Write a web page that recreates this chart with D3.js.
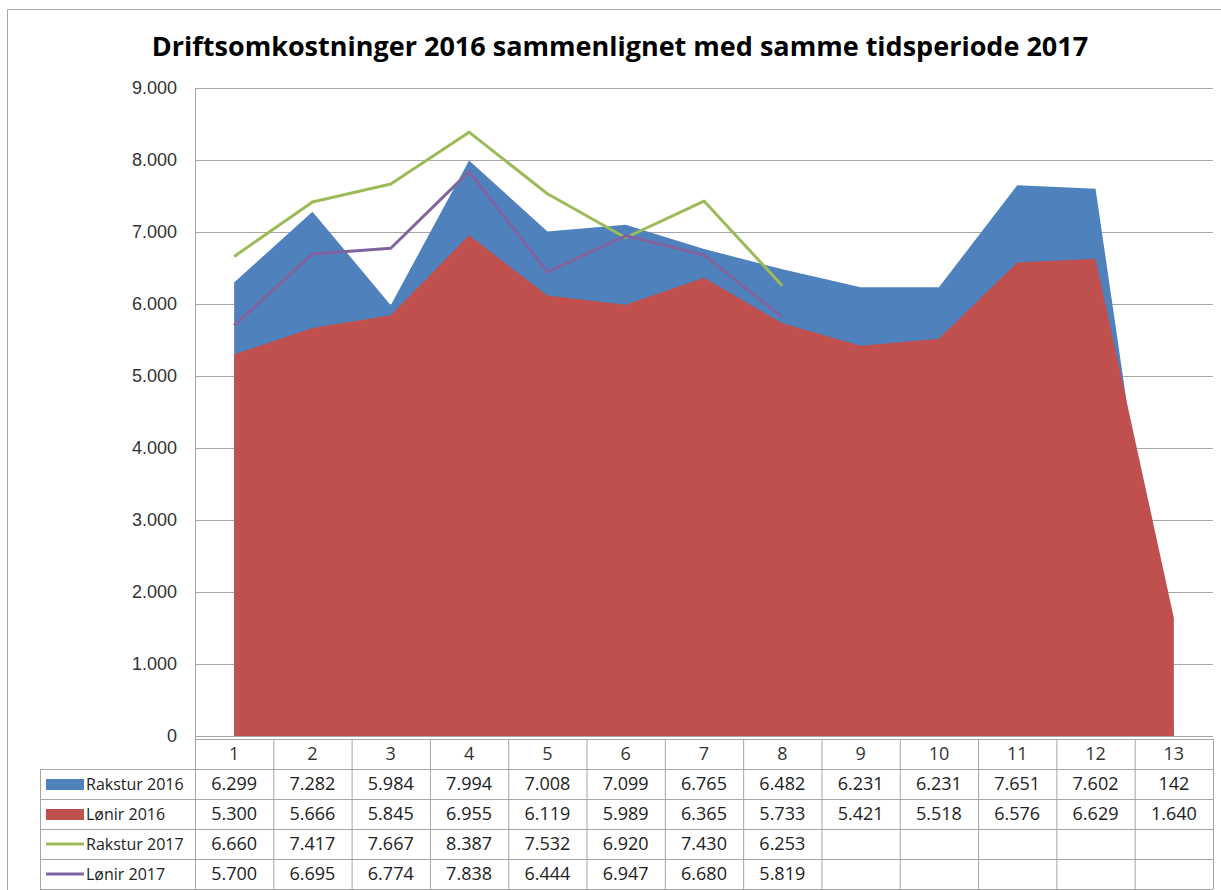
<!DOCTYPE html>
<html>
<head>
<meta charset="utf-8">
<script src="https://cdn.jsdelivr.net/npm/d3@7"></script>
<style>
  body { margin: 0; background: #fff; }
  svg { font-family: "Open Sans", "Noto Sans", sans-serif; }
</style>
</head>
<body>
<svg width="1221" height="890"></svg>
<script>
// data
const categories = ["1", "2", "3", "4", "5", "6", "7", "8", "9", "10", "11", "12", "13"];
const rakstur2016 = [6299, 7282, 5984, 7994, 7008, 7099, 6765, 6482, 6231, 6231, 7651, 7602, 142];
const lonir2016 = [5300, 5666, 5845, 6955, 6119, 5989, 6365, 5733, 5421, 5518, 6576, 6629, 1640];
const rakstur2017 = [6660, 7417, 7667, 8387, 7532, 6920, 7430, 6253];
const lonir2017 = [5700, 6695, 6774, 7838, 6444, 6947, 6680, 5819];
const yTicks = [0, 1000, 2000, 3000, 4000, 5000, 6000, 7000, 8000, 9000];

const series = [
  { name: "Rakstur 2016", values: rakstur2016, color: "#4F81BD", type: "area" },
  { name: "Lønir 2016", values: lonir2016, color: "#C0504D", type: "area" },
  { name: "Rakstur 2017", values: rakstur2017, color: "#9BBB59", type: "line" },
  { name: "Lønir 2017", values: lonir2017, color: "#8064A2", type: "line" }
];

const svg = d3.select("svg");
const grid = "#a6a6a6";
const numSize = 18;

// plot area
const plotLeft = 195, plotRight = 1213, plotTop = 88, plotBottom = 736;
const rowH = 30, headerTop = 739, legendLeft = 40;

// outer border of the chart
svg.append("path")
  .attr("d", `M7.5,890 V9.5 H1221`)
  .attr("fill", "none")
  .attr("stroke", grid);

svg.append("text")
  .attr("x", 620).attr("y", 56)
  .attr("text-anchor", "middle")
  .attr("font-size", 27).attr("font-weight", "bold")
  .attr("fill", "#000")
  .text("Driftsomkostninger 2016 sammenlignet med samme tidsperiode 2017");

const x = d3.scaleBand().domain(categories).range([plotLeft, plotRight]);
const y = d3.scaleLinear().domain([0, 9000]).range([plotBottom, plotTop]);
const cx = i => x(categories[i]) + x.bandwidth() / 2;
const fmt = v => d3.format(",")(v).replace(/,/g, ".");

// gridlines
const yAxis = d3.axisLeft(y).tickValues(yTicks)
  .tickSize(-(plotRight - plotLeft)).tickPadding(18)
  .tickFormat(fmt);
const ga = svg.append("g").attr("transform", `translate(${plotLeft},0)`).call(yAxis);
ga.select(".domain").remove();
ga.selectAll(".tick line").attr("stroke", grid);
ga.selectAll(".tick text").attr("font-size", numSize).attr("fill", "#333");

// areas (overlapping, not stacked)
const area = d3.area().x((d, i) => cx(i)).y0(y(0)).y1(d => y(d));
series.filter(s => s.type === "area").forEach(s => {
  svg.append("path").datum(s.values)
    .attr("d", area).attr("fill", s.color);
});

// lines
const line = d3.line().x((d, i) => cx(i)).y(d => y(d));
series.filter(s => s.type === "line").forEach(s => {
  svg.append("path").datum(s.values)
    .attr("d", line).attr("fill", "none")
    .attr("stroke", s.color).attr("stroke-width", 3)
    .attr("stroke-linejoin", "round");
});

// vertical axis line
const tableBottom = headerTop + rowH * 5;
svg.append("line")
  .attr("x1", plotLeft + 0.5).attr("x2", plotLeft + 0.5)
  .attr("y1", plotTop).attr("y2", tableBottom)
  .attr("stroke", grid);

// data table
const tbl = svg.append("g");
tbl.append("line").attr("x1", plotLeft).attr("x2", plotRight)
  .attr("y1", headerTop + 0.5).attr("y2", headerTop + 0.5).attr("stroke", grid);
d3.range(1, 6).forEach(r => {
  tbl.append("line").attr("x1", legendLeft).attr("x2", plotRight)
    .attr("y1", headerTop + r * rowH + 0.5).attr("y2", headerTop + r * rowH + 0.5)
    .attr("stroke", grid);
});
tbl.append("line").attr("x1", legendLeft + 0.5).attr("x2", legendLeft + 0.5)
  .attr("y1", headerTop + rowH).attr("y2", tableBottom).attr("stroke", grid);
categories.forEach(c => {
  const xr = x(c) + x.bandwidth();
  tbl.append("line").attr("x1", xr + 0.5).attr("x2", xr + 0.5)
    .attr("y1", headerTop).attr("y2", tableBottom).attr("stroke", grid);
});
// header labels
tbl.selectAll(".cat").data(categories).join("text")
  .attr("x", (d, i) => cx(i)).attr("y", headerTop + rowH / 2)
  .attr("dy", "0.36em").attr("text-anchor", "middle")
  .attr("font-size", numSize).attr("fill", "#333").text(d => d);

series.forEach((s, r) => {
  const yc = headerTop + (r + 1) * rowH + rowH / 2;
  if (s.type === "area") {
    tbl.append("rect").attr("x", 46).attr("y", yc - 5)
      .attr("width", 38).attr("height", 11).attr("fill", s.color);
  } else {
    tbl.append("line").attr("x1", 46).attr("x2", 84)
      .attr("y1", yc).attr("y2", yc)
      .attr("stroke", s.color).attr("stroke-width", 3);
  }
  tbl.append("text").attr("x", 86).attr("y", yc).attr("dy", "0.36em")
    .attr("font-size", 16).attr("fill", "#222").text(s.name);
  s.values.forEach((v, i) => {
    tbl.append("text").attr("x", cx(i)).attr("y", yc).attr("dy", "0.36em")
      .attr("text-anchor", "middle").attr("font-size", numSize).attr("fill", "#222")
      .text(fmt(v));
  });
});
</script>
</body>
</html>
